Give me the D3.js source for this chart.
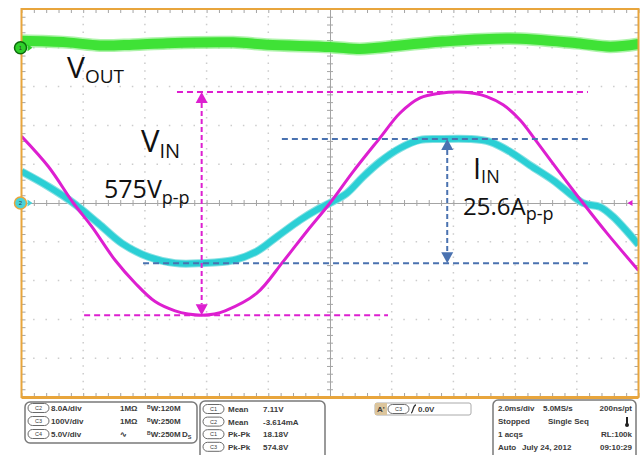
<!DOCTYPE html>
<html>
<head>
<meta charset="utf-8">
<script src="https://cdn.jsdelivr.net/npm/d3@7"></script>
<style>
  html, body { margin: 0; padding: 0; background: #fff; }
  svg { display: block; }
  .info { font-family: "Liberation Sans", Arial, sans-serif; font-weight: bold; font-size: 8px; fill: #3a3a3a; }
  .lbl { font-family: "Open Sans", "Noto Sans", sans-serif; fill: #111; }
</style>
</head>
<body>
<svg id="scope" width="641" height="455"></svg>
<script>
// ---- Captured waveforms (time in ms, 2 ms/div, trigger at centre) ----
// CH3: input voltage V_IN, 100 V/div
const vinTime  = [-10, -9.13, -8.32, -7.72, -6.97, -6.32, -5.67, -5.02, -4.60, -4.16, -3.75, -3.40, -2.38, -1.52, -0.76, 0, 0.75, 1.62, 2.27, 2.92, 3.57, 4.21, 4.70, 5.08, 5.61, 6.16, 6.70, 7.46, 8.20, 8.97, 10];
const vinVolts = [172, 94, 0, -61, -147, -206, -254, -278, -286, -289, -286, -278, -233, -151, -74, 0, 81, 168, 232, 271, 283, 286, 282, 274, 253, 214, 158, 77, 0, -77, -174];

// CH2: input current I_IN, 8 A/div
const iinTime = [-10, -9.13, -8.32, -7.51, -6.75, -5.89, -5.02, -4.16, -3.14, -2.38, -1.73, -0.97, -0.43, 0, 0.54, 1.07, 1.62, 2.27, 2.92, 3.57, 4.54, 5.19, 5.83, 6.48, 7.23, 8.20, 8.75, 9.17, 10];
const iinAmps = [6.5, 3.4, 0, -4.2, -8.3, -11.1, -12.4, -12.4, -11.8, -10.0, -7.0, -3.5, -1.4, 0, 2.0, 5.4, 8.5, 11.3, 13.0, 13.2, 13.2, 12.6, 10.6, 7.8, 4.7, 0, -0.8, -2.8, -8.6];

// CH1: output voltage V_OUT ripple, 50 V/div, ground at +4 div
const voutTime  = [-10, -8.53, -7.46, -6.39, -5.28, -3.14, -2.04, 0, 0.97, 1.52, 3.66, 5.83, 8.0, 9.08, 10];
const voutVolts = [9, 7, 3, 4, 6, 7, 4, 1, -1.5, 0, 8, 12, 6, 1.5, 5];

// Readouts
const vinPkPkLabel = "575";
const iinPkPkLabel = "25.6";
const scaleRows = [
  ["C2", "8.0A/div", "1MΩ", "120M", ""],
  ["C3", "100V/div", "1MΩ", "250M", ""],
  ["C4", "5.0V/div", "∿", "250M", "D"]
];
const measRows = [
  ["C1", "Mean", "7.11V"],
  ["C2", "Mean", "-3.614mA"],
  ["C1", "Pk-Pk", "18.18V"],
  ["C3", "Pk-Pk", "574.8V"]
];
const acqRows = [
  ["2.0ms/div", "5.0MS/s", "200ns/pt"],
  ["Stopped", "Single Seq", ""],
  ["1 acqs", "", "RL:100k"],
  ["Auto", "July 24, 2012", "09:10:29"]
];
const triggerLevel = "0.0V";

// ---- Layout ----
const svg = d3.select("#scope");
const L = 21.5, R = 638.5, T = 9, B = 397;
const C = {
  frame: "#e8a53c", grid: "#cccccc", axis: "#a4a4a4",
  vin: "#dd1fd0", iin: "#2bcfd5", iinHalo: "#86e0e2",
  vout: "#3fe236", voutEdge: "#8cee86", blue: "#4a72b0"
};

const x = d3.scaleLinear().domain([-10, 10]).range([L, R]);
const yDiv = d3.scaleLinear().domain([-5, 5]).range([B, T]);
const yV = d3.scaleLinear().domain([-500, 500]).range([B, T]);
const yA = d3.scaleLinear().domain([-40, 40]).range([B, T]);
const yOut = d3.scaleLinear().domain([-450, 50]).range([B, T]);

const xMinor = d3.range(-10, 10.001, 0.4);
const yMinor = d3.range(-5, 5.001, 0.2);

// Dotted graticule
const g = svg.append("g");
const xMajor = d3.range(-8, 8.001, 2).filter(v => Math.abs(v) > 1e-9);
const yMajor = d3.range(-4, 4.001, 1).filter(v => Math.abs(v) > 1e-9);
const stepX = (R - L) / 50, stepY = (B - T) / 50;
g.selectAll(".gv").data(xMajor).join("line")
  .attr("x1", d => x(d)).attr("x2", d => x(d))
  .attr("y1", T - 0.75).attr("y2", B)
  .attr("stroke", C.grid).attr("stroke-width", 1.5)
  .attr("stroke-dasharray", `1.5 ${stepY - 1.5}`);
g.selectAll(".gh").data(yMajor).join("line")
  .attr("y1", d => yDiv(d)).attr("y2", d => yDiv(d))
  .attr("x1", L - 0.75).attr("x2", R)
  .attr("stroke", C.grid).attr("stroke-width", 1.5)
  .attr("stroke-dasharray", `1.5 ${stepX - 1.5}`);

// Centre cross-hair with minor ticks
function styleAxis(sel, keepDomain) {
  sel.selectAll("line").attr("stroke", C.axis);
  sel.select(".domain").attr("stroke", keepDomain ? C.axis : "none");
}
const yc = yDiv(0), xc = x(0);
svg.append("g").attr("transform", `translate(0,${yc})`)
  .call(d3.axisBottom(x).tickValues(xMinor).tickSize(3).tickSizeOuter(0).tickFormat(""))
  .call(s => styleAxis(s, true));
svg.append("g").attr("transform", `translate(0,${yc})`)
  .call(d3.axisTop(x).tickValues(xMinor).tickSize(3).tickSizeOuter(0).tickFormat(""))
  .call(s => styleAxis(s, false));
svg.append("g").attr("transform", `translate(${xc},0)`)
  .call(d3.axisRight(yDiv).tickValues(yMinor).tickSize(3).tickSizeOuter(0).tickFormat(""))
  .call(s => styleAxis(s, true));
svg.append("g").attr("transform", `translate(${xc},0)`)
  .call(d3.axisLeft(yDiv).tickValues(yMinor).tickSize(3).tickSizeOuter(0).tickFormat(""))
  .call(s => styleAxis(s, false));

// Edge ticks
svg.append("g").attr("transform", `translate(0,${T})`)
  .call(d3.axisBottom(x).tickValues(xMinor).tickSize(4).tickSizeOuter(0).tickFormat(""))
  .call(s => styleAxis(s, false));
svg.append("g").attr("transform", `translate(0,${B})`)
  .call(d3.axisTop(x).tickValues(xMinor).tickSize(4).tickSizeOuter(0).tickFormat(""))
  .call(s => styleAxis(s, false));
svg.append("g").attr("transform", `translate(${L},0)`)
  .call(d3.axisRight(yDiv).tickValues(yMinor).tickSize(4).tickSizeOuter(0).tickFormat(""))
  .call(s => styleAxis(s, false));
svg.append("g").attr("transform", `translate(${R},0)`)
  .call(d3.axisLeft(yDiv).tickValues(yMinor).tickSize(4).tickSizeOuter(0).tickFormat(""))
  .call(s => styleAxis(s, false));

// ---- Traces ----
svg.append("clipPath").attr("id", "plotClip")
  .append("rect").attr("x", L).attr("y", T).attr("width", R - L).attr("height", B - T);
const traces = svg.append("g").attr("clip-path", "url(#plotClip)");

function curveOf(times, vals, ys) {
  return d3.line().x((d, i) => x(times[i])).y(d => ys(d)).curve(d3.curveCatmullRom.alpha(0.5))(vals);
}

// V_OUT ripple band (wide noise envelope)
const voutPath = curveOf(voutTime, voutVolts, yOut);
traces.append("path").attr("d", voutPath)
  .attr("fill", "none").attr("stroke", C.voutEdge).attr("stroke-width", 13).attr("opacity", 0.7);
traces.append("path").attr("d", voutPath)
  .attr("fill", "none").attr("stroke", C.vout).attr("stroke-width", 10);

// I_IN
const iinPath = curveOf(iinTime, iinAmps, yA);
traces.append("path").attr("d", iinPath)
  .attr("fill", "none").attr("stroke", C.iinHalo).attr("stroke-width", 8);
traces.append("path").attr("d", iinPath)
  .attr("fill", "none").attr("stroke", C.iin).attr("stroke-width", 6);

// V_IN
traces.append("path").attr("d", curveOf(vinTime, vinVolts, yV))
  .attr("fill", "none").attr("stroke", C.vin).attr("stroke-width", 3);

// ---- Frame ----
svg.append("rect").attr("x", L).attr("y", T).attr("width", R - L).attr("height", B - T)
  .attr("fill", "none").attr("stroke", C.frame).attr("stroke-width", 2);
svg.append("line").attr("x1", L).attr("x2", R).attr("y1", B + 0.5).attr("y2", B + 0.5)
  .attr("stroke", C.frame).attr("stroke-width", 3);

// ---- Peak-to-peak annotations ----
const vMax = d3.max(vinVolts), vMin = d3.min(vinVolts);
const iMax = d3.max(iinAmps), iMin = d3.min(iinAmps);
const ann = svg.append("g");
function hDash(t0, t1, yy, col) {
  ann.append("line").attr("x1", x(t0)).attr("x2", x(t1)).attr("y1", yy).attr("y2", yy)
    .attr("stroke", col).attr("stroke-width", 2).attr("stroke-dasharray", "6 4");
}
function vArrow(t, y0, y1, col) {
  const xx = x(t), hw = 6, hh = 11;
  ann.append("line").attr("x1", xx).attr("x2", xx).attr("y1", y0 + hh).attr("y2", y1 - hh)
    .attr("stroke", col).attr("stroke-width", 2).attr("stroke-dasharray", "5 3");
  ann.append("path").attr("d", `M${xx},${y0} L${xx - hw},${y0 + hh} L${xx + hw},${y0 + hh} Z`).attr("fill", col);
  ann.append("path").attr("d", `M${xx},${y1} L${xx - hw},${y1 - hh} L${xx + hw},${y1 - hh} Z`).attr("fill", col);
}
hDash(-4.96, 8.36, yV(vMax), C.vin);
hDash(-7.97, 1.88, yV(vMin), C.vin);
vArrow(-4.16, yV(vMax), yV(vMin), C.vin);
hDash(-1.56, 8.36, yA(iMax), C.blue);
hDash(-6.06, 8.36, yA(iMin), C.blue);
vArrow(3.8, yA(iMax), yA(iMin), C.blue);

// ---- Labels ----
function subLabel(px, py, main, sub, big, small, dy) {
  const t = svg.append("text").attr("class", "lbl").attr("x", px).attr("y", py);
  t.append("tspan").attr("font-size", big).text(main);
  t.append("tspan").attr("font-size", small).attr("dy", dy).text(sub);
}
subLabel(67, 78, "V", "OUT", 30, 19, 5);
subLabel(141, 152, "V", "IN", 31, 20, 6);
subLabel(104, 198, vinPkPkLabel + "V", "p-p", 25, 18, 6);
subLabel(473, 179, "I", "IN", 29, 18, 4);
subLabel(463, 215, iinPkPkLabel + "A", "p-p", 24, 18, 5);

// ---- Channel markers ----
function chMarker(yy, fill, ring, num) {
  svg.append("path").attr("d", `M${L + 6},${yy - 3.5} L${L + 11},${yy} L${L + 6},${yy + 3.5} Z`).attr("fill", fill);
  svg.append("circle").attr("cx", L - 1).attr("cy", yy).attr("r", 6).attr("fill", fill)
    .attr("stroke", ring).attr("stroke-width", 1.5);
  svg.append("text").attr("x", L - 1).attr("y", yy + 2.2).attr("text-anchor", "middle")
    .attr("font-family", "Liberation Sans, Arial").attr("font-size", 6).attr("fill", "#333").text(num);
}
chMarker(yOut(0), "#2fd02a", "#0c6a0c", "1");
chMarker(yA(0), "#49d3d8", C.frame, "2");
// trigger level marker
svg.append("path").attr("d", `M${R - 11},${yV(0)} L${R - 6},${yV(0) - 3} L${R - 6},${yV(0) + 3} Z`).attr("fill", C.vin);

// ---- Readout panel ----
const info = svg.append("g").attr("class", "info");
function box(x0, y0, w, h) {
  info.append("rect").attr("x", x0).attr("y", y0).attr("width", w).attr("height", h).attr("rx", 5)
    .attr("fill", "#fff").attr("stroke", "#7a7a7a").attr("stroke-width", 1.5);
}
function badge(x0, yy, label) {
  info.append("rect").attr("x", x0).attr("y", yy - 4.5).attr("width", 21).attr("height", 9).attr("rx", 4.5)
    .attr("fill", "#fff").attr("stroke", "#6a6a6a").attr("stroke-width", 1);
  info.append("text").attr("x", x0 + 10.5).attr("y", yy + 2).attr("text-anchor", "middle")
    .style("font-size", "5.5px").style("font-weight", "normal").text(label);
}
function txt(x0, yy, s, anchor) {
  return info.append("text").attr("x", x0).attr("y", yy + 3).attr("text-anchor", anchor || "start").text(s);
}

// Vertical settings
box(25, 402, 172, 41);
scaleRows.forEach((r, i) => {
  const yy = 408 + i * 13;
  badge(28, yy, r[0]);
  txt(51, yy, r[1]);
  txt(120, yy, r[2]);
  const bw = info.append("text").attr("x", 147).attr("y", yy + 3);
  bw.append("tspan").style("font-size", "5px").attr("dy", -2).text("B");
  bw.append("tspan").attr("dy", 2).text("W:" + r[3]);
  if (r[4]) {
    const ds = info.append("text").attr("x", 182).attr("y", yy + 3);
    ds.append("tspan").text(r[4]);
    ds.append("tspan").style("font-size", "5.5px").attr("dy", 2).text("S");
  }
});

// Measurements
box(200, 401, 125, 60);
measRows.forEach((r, i) => {
  const yy = 409 + i * 12.6;
  badge(203, yy, r[0]);
  txt(228, yy, r[1]);
  txt(263, yy, r[2]);
});

// Trigger
info.append("rect").attr("x", 375).attr("y", 403).attr("width", 96).attr("height", 12).attr("rx", 2)
  .attr("fill", "#fff").attr("stroke", "#aaa").attr("stroke-width", 1);
info.append("rect").attr("x", 375).attr("y", 403).attr("width", 12).attr("height", 12)
  .attr("fill", "#dcc59c");
txt(377, 409, "A'");
badge(388, 409, "C3");
info.append("path").attr("d", "M411,413 C413,413 413,405 416,405").attr("fill", "none").attr("stroke", "#333").attr("stroke-width", 1.3);
txt(418, 409, triggerLevel);

// Acquisition
box(493, 400, 143, 62);
const acqX = [498, 543, 632];
acqRows.forEach((r, i) => {
  const yy = 408 + i * 13;
  txt(acqX[0], yy, r[0]);
  if (r[1]) txt(i === 3 ? 522 : (i === 1 ? 548 : acqX[1]), yy, r[1]);
  if (r[2]) txt(acqX[2], yy, r[2], "end");
});
// thermometer-style status icon
info.append("rect").attr("x", 626).attr("y", 417).attr("width", 2).attr("height", 7).attr("fill", "#222");
info.append("circle").attr("cx", 627).attr("cy", 425).attr("r", 2).attr("fill", "#222");
</script>
</body>
</html>
